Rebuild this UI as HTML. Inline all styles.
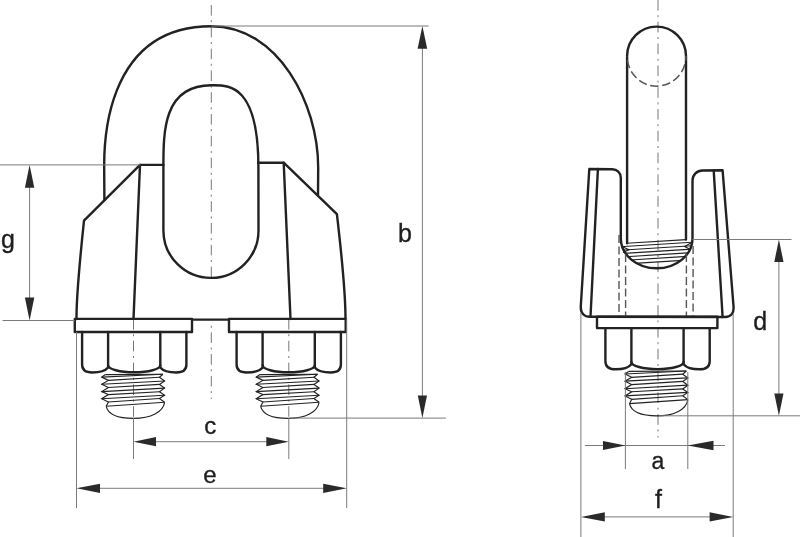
<!DOCTYPE html>
<html><head><meta charset="utf-8">
<style>
html,body{margin:0;padding:0;background:#fff;width:800px;height:537px;overflow:hidden}
svg{display:block;will-change:transform}
.o{fill:none;stroke:#222;stroke-width:2.4;stroke-linejoin:round;stroke-linecap:round}
.d{fill:none;stroke:#7b7b7b;stroke-width:1}
.c{fill:none;stroke:#777;stroke-width:1;stroke-dasharray:10.6 4.6 2 4.6}
.h{fill:none;stroke:#555;stroke-width:1.4;stroke-dasharray:8 3.5}
.t{fill:none;stroke:#222;stroke-width:1.15}
.a{fill:#2a2a2a;stroke:none}
text{font-family:"Liberation Sans",sans-serif;font-size:25px;fill:#1e1e1e;stroke:#1e1e1e;stroke-width:0.35}
</style></head><body>
<svg width="800" height="537" viewBox="0 0 800 537">
<!-- ===== LEFT VIEW ===== -->
<!-- centerlines -->
<line class="c" x1="211.3" y1="5" x2="211.3" y2="278"/>
<line class="c" x1="211.3" y1="325.7" x2="211.3" y2="399" style="stroke-dashoffset:15.2"/>
<line class="c" x1="133.5" y1="319" x2="133.5" y2="420"/>
<line class="c" x1="288.8" y1="319" x2="288.8" y2="420"/>

<!-- U bolt outer -->
<path class="o" d="M104.4 200.3 L104.2 170.5 C104.2 157.8 99 26.2 211.3 26.2 C278 26.2 318.2 103.3 318.2 167.8 L318 195"/>
<!-- inner oval -->
<path class="o" d="M163.4 165 L163.4 167 C163.4 131.8 163.2 85.3 211.5 85.3 C227.8 85.3 258.4 82.6 258.4 167.3 L258.5 230.4 A47.5 47.5 0 0 1 211.5 277.9 A47.5 47.5 0 0 1 163.4 230.4 Z"/>
<!-- left body -->
<path class="o" d="M163.4 164.9 L140 164.9 L84 220.6 C80.9 250 76.3 295 76.5 319"/>
<path class="o" d="M140 164.9 L133.5 319"/>
<!-- right body -->
<path class="o" d="M258.4 162.7 L283.7 162.7 L336.9 214.2 C340.5 245 345.5 295 345.5 319"/>
<path class="o" d="M283.7 162.7 L290.5 319"/>
<!-- plates -->
<rect class="o" x="74.8" y="318.9" width="117.2" height="13.1"/>
<rect class="o" x="229" y="318.9" width="116.7" height="13.1"/>
<line class="o" x1="192" y1="319.6" x2="229" y2="319.6"/>

<!-- nuts -->
<g>
<path class="o" d="M82.1 332 L82.1 364.5 Q82.1 372.5 92.2 372.5 Q104 372.5 108.1 367.5 L108.1 332"/>
<path class="o" d="M186.4 332 L186.4 364.5 Q186.4 372.5 176.3 372.5 Q164.3 372.5 160.3 367.5 L160.3 332"/>
<path class="o" d="M108.1 365.3 A26.1 7 0 0 0 160.3 365.3"/>
<path class="t" d="M105.4 374.6 L163 374.2"/>
<path class="t" d="M105.4 374.6 L101.7 377.1 L108.4 380.4 L101.7 384.2 L108.4 387.5 L101.7 391.6 L108.4 394.6 L101.7 398.7 L108.4 402 L106.2 406.3"/>
<path class="t" d="M163 374.2 L159.4 377.3 L164.6 381 L159.4 384.4 L164.6 388.1 L159.4 391.8 L164.6 395.2 L159.4 398.5 L164.6 402.3"/>
<path class="t" d="M101.7 377.1 L163 374.2 M108.4 380.4 L159.4 377.3 M101.7 384.2 L164.6 381 M108.4 387.5 L159.4 384.4 M101.7 391.6 L164.6 388.1 M108.4 394.6 L159.4 391.8 M101.7 398.7 L164.6 395.2 M108.4 402 L159.4 398.5 M106.2 406.3 L164.6 402.3"/>
<path class="t" d="M106.2 406.3 C108 414 118 418.3 133.5 418.3 C151 418.3 163 412 164.6 402.3"/>
</g>
<g transform="translate(154.5 0)">
<path class="o" d="M82.1 332 L82.1 364.5 Q82.1 372.5 92.2 372.5 Q104 372.5 108.1 367.5 L108.1 332"/>
<path class="o" d="M186.4 332 L186.4 364.5 Q186.4 372.5 176.3 372.5 Q164.3 372.5 160.3 367.5 L160.3 332"/>
<path class="o" d="M108.1 365.3 A26.1 7 0 0 0 160.3 365.3"/>
<path class="t" d="M105.4 374.6 L163 374.2"/>
<path class="t" d="M105.4 374.6 L101.7 377.1 L108.4 380.4 L101.7 384.2 L108.4 387.5 L101.7 391.6 L108.4 394.6 L101.7 398.7 L108.4 402 L106.2 406.3"/>
<path class="t" d="M163 374.2 L159.4 377.3 L164.6 381 L159.4 384.4 L164.6 388.1 L159.4 391.8 L164.6 395.2 L159.4 398.5 L164.6 402.3"/>
<path class="t" d="M101.7 377.1 L163 374.2 M108.4 380.4 L159.4 377.3 M101.7 384.2 L164.6 381 M108.4 387.5 L159.4 384.4 M101.7 391.6 L164.6 388.1 M108.4 394.6 L159.4 391.8 M101.7 398.7 L164.6 395.2 M108.4 402 L159.4 398.5 M106.2 406.3 L164.6 402.3"/>
<path class="t" d="M106.2 406.3 C108 414 118 418.3 133.5 418.3 C151 418.3 163 412 164.6 402.3"/>
</g>

<!-- dimension b -->
<line class="d" x1="211.3" y1="26" x2="428.6" y2="26"/>
<line class="d" x1="290" y1="418.1" x2="445.9" y2="418.1"/>
<line class="d" x1="422.4" y1="40" x2="422.4" y2="405"/>
<path class="a" d="M422.4 26 L427.2 48.7 L417.6 48.7 Z"/>
<path class="a" d="M422.4 418.1 L427 395.4 L417.8 395.4 Z"/>
<text x="398" y="242.4">b</text>

<!-- dimension g -->
<line class="d" x1="0" y1="164.9" x2="140.3" y2="164.9"/>
<line class="d" x1="2.5" y1="320.5" x2="74.7" y2="320.5"/>
<line class="d" x1="29.6" y1="180" x2="29.6" y2="305"/>
<path class="a" d="M29.6 164.9 L34.3 187.8 L24.9 187.8 Z"/>
<path class="a" d="M29.6 320.5 L34.3 297.4 L24.9 297.4 Z"/>
<text x="1" y="248">g</text>

<!-- dimension c -->
<line class="d" x1="133.5" y1="418" x2="133.5" y2="459"/>
<line class="d" x1="288.8" y1="418" x2="288.8" y2="459"/>
<line class="d" x1="140" y1="441.7" x2="282" y2="441.7"/>
<path class="a" d="M133.5 441.7 L156 437.1 L156 446.3 Z"/>
<path class="a" d="M288.8 441.7 L266.3 437.1 L266.3 446.3 Z"/>
<text x="210.2" y="434" text-anchor="middle" style="font-size:24px">c</text>

<!-- dimension e -->
<line class="d" x1="76.5" y1="332" x2="76.5" y2="508"/>
<line class="d" x1="346.7" y1="319" x2="346.7" y2="508"/>
<line class="d" x1="80" y1="488.3" x2="340" y2="488.3"/>
<path class="a" d="M76.5 488.3 L100 483.7 L100 492.9 Z"/>
<path class="a" d="M346.7 488.3 L323.2 483.7 L323.2 492.9 Z"/>
<text x="210" y="482.6" text-anchor="middle" style="font-size:24px">e</text>

<!-- ===== RIGHT VIEW ===== -->
<line class="c" x1="658" y1="0" x2="658" y2="437.5"/>
<!-- rod -->
<path class="o" d="M627.1 243.3 L627.1 56 A29.45 29.45 0 0 1 686 56 L686 239.6"/>
<path class="h" d="M627.1 56 A29.45 30.2 0 0 0 686 56" style="stroke-dasharray:8.5 3.6;stroke-dashoffset:-4;stroke-width:1.5"/>
<!-- body -->
<path class="o" d="M589.3 169 L612.3 169.2 A8.5 8.5 0 0 1 620.8 177.7 L620.8 238.5 A35.8 29.8 0 0 0 692.5 238.5 L692.5 180.5 A10 10 0 0 1 702.5 170.5 L722.6 170.3 L733.5 306 C734.2 313.5 731 317 725 317 L590 316.8 C584.5 316.8 580.3 313.5 580.8 306 Z"/>
<path class="o" d="M597.9 169 L590.5 316.8"/>
<path class="o" d="M713.7 170.4 L722.6 317"/>
<!-- hidden lines -->
<line class="h" x1="619" y1="235" x2="619" y2="316"/>
<line class="h" x1="625.6" y1="254" x2="625.6" y2="316"/>
<line class="h" x1="686.4" y1="254" x2="686.4" y2="316"/>
<line class="h" x1="693.1" y1="246" x2="693.1" y2="316"/>
<!-- hatching -->
<clipPath id="uclip"><path d="M620.8 200 L620.8 238.5 A35.6 29.7 0 0 0 692 238.5 L692 200 Z"/></clipPath>
<g clip-path="url(#uclip)">
<path class="t" d="M615 247.1 L700 241.8 M615 250.6 L700 245.3 M615 253.9 L700 248.6 M615 257.4 L700 252.1 M615 260.9 L700 255.6 M615 264.6 L700 259.3"/>
</g>
<path class="t" d="M626.7 243.3 L686.2 239.6"/>
<path class="t" d="M622 246.5 L629 249.7 L623 252.5 M691 243 L684.6 246.5 L690.5 249.5"/>
<!-- plate -->
<rect class="o" x="597" y="316.8" width="120.4" height="11.3"/>
<!-- nut -->
<g transform="translate(523.3 -9.68) scale(1 1.0174)">
<path class="o" d="M82.1 332 L82.1 364.5 Q82.1 372.5 92.2 372.5 Q104 372.5 108.1 367.5 L108.1 332"/>
<path class="o" d="M186.4 332 L186.4 364.5 Q186.4 372.5 176.3 372.5 Q164.3 372.5 160.3 367.5 L160.3 332"/>
<path class="o" d="M108.1 365.3 A26.1 7 0 0 0 160.3 365.3"/>
<path class="t" d="M105.4 374.6 L163 374.2"/>
<path class="t" d="M105.4 374.6 L101.7 377.1 L108.4 380.4 L101.7 384.2 L108.4 387.5 L101.7 391.6 L108.4 394.6 L101.7 398.7 L108.4 402 L106.2 406.3"/>
<path class="t" d="M163 374.2 L159.4 377.3 L164.6 381 L159.4 384.4 L164.6 388.1 L159.4 391.8 L164.6 395.2 L159.4 398.5 L164.6 402.3"/>
<path class="t" d="M101.7 377.1 L163 374.2 M108.4 380.4 L159.4 377.3 M101.7 384.2 L164.6 381 M108.4 387.5 L159.4 384.4 M101.7 391.6 L164.6 388.1 M108.4 394.6 L159.4 391.8 M101.7 398.7 L164.6 395.2 M108.4 402 L159.4 398.5 M106.2 406.3 L164.6 402.3"/>
<path class="t" d="M106.2 406.3 C108 414 118 418.3 133.5 418.3 C151 418.3 163 412 164.6 402.3"/>
</g>

<!-- dimension d -->
<line class="d" x1="692.4" y1="239.5" x2="791.5" y2="239.5"/>
<line class="d" x1="659" y1="415.8" x2="800" y2="415.8"/>
<line class="d" x1="778.9" y1="250" x2="778.9" y2="405"/>
<path class="a" d="M778.9 239.5 L783.5 261.9 L774.3 261.9 Z"/>
<path class="a" d="M778.9 415.8 L783.5 393.4 L774.3 393.4 Z"/>
<text x="753.2" y="330">d</text>

<!-- dimension a -->
<line class="d" x1="625.4" y1="372" x2="625.4" y2="469"/>
<line class="d" x1="687.8" y1="372" x2="687.8" y2="469"/>
<line class="d" x1="584.9" y1="445.5" x2="725" y2="445.5"/>
<path class="a" d="M625.4 445.5 L603 440.9 L603 450.1 Z"/>
<path class="a" d="M687.8 445.5 L713.5 440.8 L713.5 450.2 Z"/>
<text x="657.8" y="468.8" text-anchor="middle" style="font-size:23px">a</text>

<!-- dimension f -->
<line class="d" x1="580.9" y1="313" x2="580.9" y2="537"/>
<line class="d" x1="733.2" y1="314" x2="733.2" y2="537"/>
<line class="d" x1="585" y1="516.9" x2="729" y2="516.9"/>
<path class="a" d="M581 516.9 L604.8 512.3 L604.8 521.5 Z"/>
<path class="a" d="M733.2 516.9 L709.6 512.3 L709.6 521.5 Z"/>
<text x="658.4" y="508.4" text-anchor="middle">f</text>
</svg>
</body></html>
